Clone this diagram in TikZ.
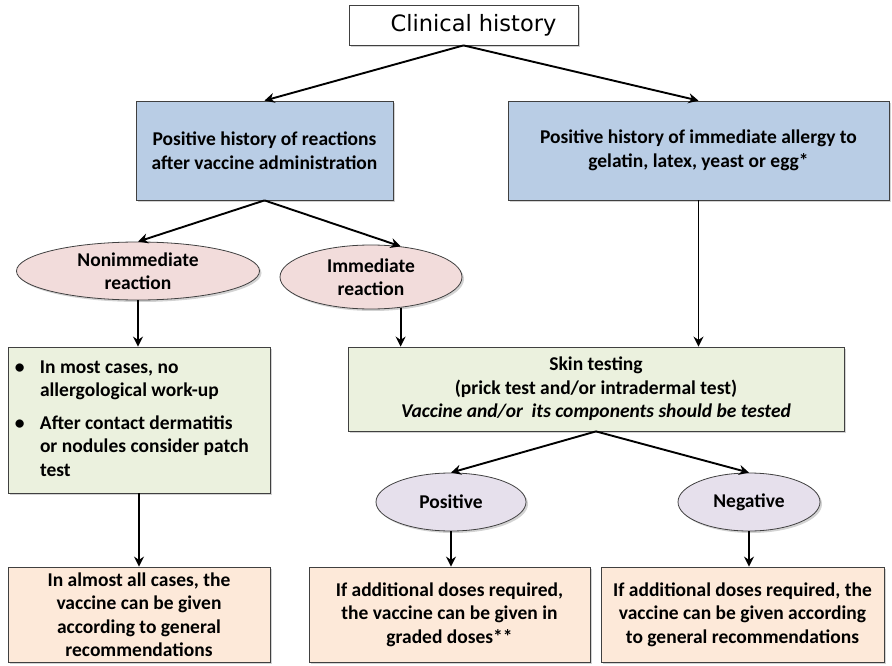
\documentclass[tikz,border=0pt]{standalone}
\usepackage{fontspec}
\setmainfont{Carlito}
\newfontfamily\titlefont{DejaVu Sans}
\usetikzlibrary{arrows.meta,shapes.geometric,shadows}
\definecolor{BoxBlue}{RGB}{185,205,229}
\definecolor{OvalPink}{RGB}{242,220,219}
\definecolor{BoxGreen}{RGB}{235,241,222}
\definecolor{OvalLilac}{RGB}{230,224,236}
\definecolor{BoxPeach}{RGB}{253,233,217}

\begin{document}
\begin{tikzpicture}[x=1pt,y=-1pt,
	box/.style={rectangle,draw=black!75,line width=0.8pt,align=center,inner sep=2pt,
		font=\fontsize{19.5}{23.5}\selectfont\bfseries,
		drop shadow={shadow xshift=2pt,shadow yshift=-2pt,opacity=0.35}},
	oval/.style={box,ellipse},
	arr/.style={-{Stealth[length=10pt,width=10pt]},line width=1.9pt}]
\useasboundingbox (0,0) rectangle (892,666);
% top
\node[box,fill=white,minimum width=229,minimum height=40] (hist) at (463.5,25) {\hspace*{20pt}\titlefont\mdseries\fontsize{22.5}{24}\selectfont Clinical history};
\node[box,fill=BoxBlue,minimum width=257,minimum height=99] (react) at (264.5,150.5) {Positive history of reactions\\after vaccine administration};
\node[box,fill=BoxBlue,minimum width=381,minimum height=99] (allergy) at (698.5,150.5) {Positive history of immediate allergy to\\gelatin, latex, yeast or egg*};
% reaction type
\node[oval,fill=OvalPink,minimum width=243,minimum height=58,inner sep=0pt] (nonimm) at (138,271) {Nonimmediate\\reaction};
\node[oval,fill=OvalPink,minimum width=182,minimum height=64,inner sep=0pt] (imm) at (371,277) {Immediate\\reaction};
\node[box,fill=BoxGreen,minimum width=262,minimum height=146] (workup) at (139,420) {%
	\begin{tabular}{@{}p{25pt}@{}p{223pt}@{}}
	\textbullet & In most cases, no\newline allergological work-up\\[9pt]
	\textbullet & After contact dermatitis\newline or nodules consider patch\newline test
	\end{tabular}};
\node[box,fill=BoxGreen,minimum width=496,minimum height=84] (skin) at (596,389) {Skin testing\\(prick test and/or intradermal test)\\\textit{Vaccine and/or\ \ its components should be tested}};
% test result
\node[oval,fill=OvalLilac,minimum width=150,minimum height=58] (pos) at (451,502) {Positive};
\node[oval,fill=OvalLilac,minimum width=142,minimum height=58] (neg) at (749,502) {Negative};
% outcome
\node[box,fill=BoxPeach,minimum width=262,minimum height=95] (giveA) at (139,614.5) {In almost all cases, the\\vaccine can be given\\according to general\\recommendations};
\node[box,fill=BoxPeach,minimum width=281,minimum height=95] (giveB) at (449.5,614.5) {If additional doses required,\\the vaccine can be given in\\graded doses**};
\node[box,fill=BoxPeach,minimum width=283,minimum height=95] (giveC) at (742.5,614.5) {If additional doses required, the\\vaccine can be given according\\to general recommendations};
% arrows
\draw[arr] (hist.south) -- (react.north);
\draw[arr] (hist.south) -- (allergy.north);
\draw[arr] (react.south) -- (nonimm.north);
\draw[arr] (react.south) -- (imm.46);
\draw[arr] (imm.-46) -- (imm.-46 |- skin.north);
\draw[arr] (allergy.south) -- (allergy.south |- skin.north);
\draw[arr] (nonimm.south) -- (workup.north -| nonimm.south);
\draw[arr] (workup.south) -- (giveA.north);
\draw[arr] (skin.south) -- (pos.north);
\draw[arr] (skin.south) -- (neg.north);
\draw[arr] (pos.south) -- (pos.south |- giveB.north);
\draw[arr] (neg.south) -- (neg.south |- giveC.north);
\end{tikzpicture}
\end{document}
